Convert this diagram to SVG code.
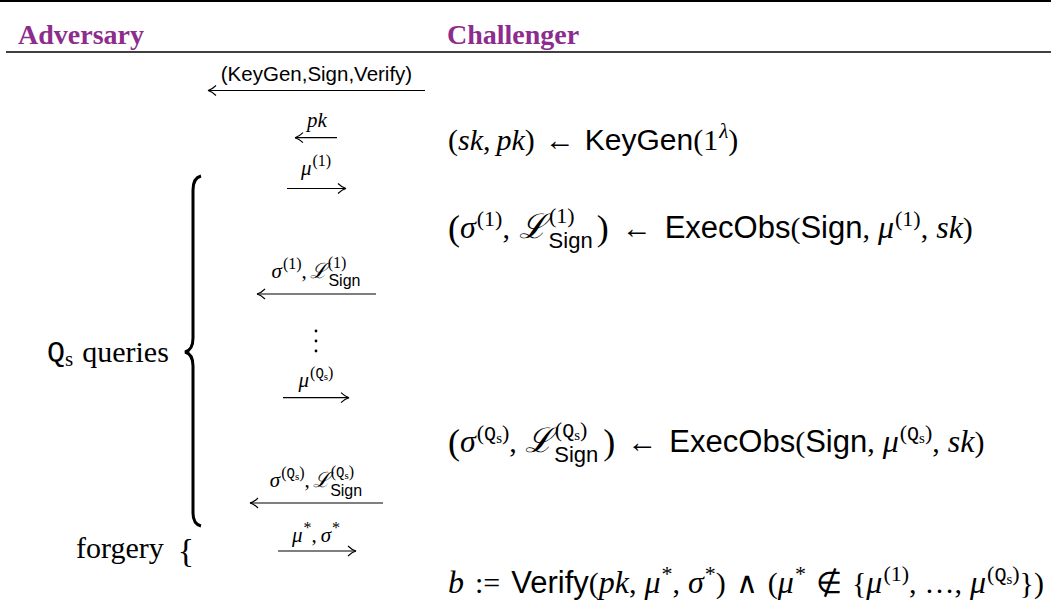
<svg xmlns="http://www.w3.org/2000/svg" width="1051" height="609" viewBox="0 0 1051 609">
<style>
text{font-family:"Liberation Serif",serif;fill:#000}
.h{font-weight:bold;font-size:28px;fill:#8c2d8d}
.m{font-size:30px}
.s{font-size:21px}
.i{font-style:italic}
.ib{font-style:italic;font-size:32px}
.sf{font-family:"Liberation Sans",sans-serif}
.sfb{font-family:"Liberation Sans",sans-serif;font-size:31px}
.tt{font-family:"Liberation Mono",monospace}
.scr{font-family:"DejaVu Serif",serif;font-style:italic}
.rule{stroke:#000;fill:none}
.arr{stroke:#000;stroke-width:1.2;fill:none;marker-end:url(#ah)}
</style>
<defs>
<marker id="ah" viewBox="-10 -6 12 12" refX="0" refY="0" markerWidth="12" markerHeight="12" markerUnits="userSpaceOnUse" orient="auto">
<path d="M-8 -5 C-5 -2 -2 -0.5 0 0 C-2 0.5 -5 2 -8 5" fill="none" stroke="#000" stroke-width="1.1"/>
</marker>
</defs>
<g id="table-rules">
<line class="rule" x1="0" y1="1" x2="1051" y2="1" stroke-width="2"/>
<line class="rule" x1="6" y1="52" x2="1051" y2="52" stroke-width="1.4"/>
</g>
<g id="header-adversary"><text class="h" x="18" y="44">Adversary</text></g>
<g id="header-challenger"><text class="h" x="447" y="44">Challenger</text></g>

<g id="connectors">
<line class="arr" x1="425" y1="90.5" x2="208" y2="90.5"/>
<line class="arr" x1="337" y1="137.7" x2="295" y2="137.7"/>
<line class="arr" x1="287" y1="188.5" x2="346" y2="188.5"/>
<line class="arr" x1="376" y1="294" x2="257" y2="294"/>
<line class="arr" x1="283" y1="397.7" x2="349" y2="397.7"/>
<line class="arr" x1="383" y1="503" x2="250" y2="503"/>
<line class="arr" x1="278" y1="551" x2="356" y2="551"/>
</g>

<g id="arrow-labels">
<text class="sf" font-size="20.5" x="316.5" y="81" text-anchor="middle">(KeyGen,Sign,Verify)</text>
<text class="s i" x="317" y="127" text-anchor="middle">pk</text>
<text class="s" x="316" y="175" text-anchor="middle"><tspan class="i">μ</tspan><tspan font-size="16" dy="-9" dx="1">(1)</tspan></text>
<text class="s" x="316" y="278" text-anchor="middle"><tspan class="i">σ</tspan><tspan font-size="16" dy="-9" dx="1">(1)</tspan><tspan dy="9">,</tspan><tspan class="scr" dx="3">ℒ</tspan><tspan font-size="16" dy="-10" dx="1">(1)</tspan><tspan class="sf" font-size="16" dx="-18" dy="18">Sign</tspan></text>
<g id="vdots"><circle cx="316" cy="331" r="1.4"/><circle cx="316" cy="341" r="1.4"/><circle cx="316" cy="351" r="1.4"/></g>
<text class="s" x="316" y="387" text-anchor="middle"><tspan class="i">μ</tspan><tspan font-size="16" dy="-9" dx="1">(</tspan><tspan class="tt" font-size="14">Q</tspan><tspan font-size="11" dy="2">s</tspan><tspan font-size="16" dy="-2">)</tspan></text>
<text class="s" x="316" y="487" text-anchor="middle"><tspan class="i">σ</tspan><tspan font-size="16" dy="-9" dx="1">(</tspan><tspan class="tt" font-size="14">Q</tspan><tspan font-size="11" dy="2">s</tspan><tspan font-size="16" dy="-2">)</tspan><tspan dy="9">,</tspan><tspan class="scr" dx="3">ℒ</tspan><tspan font-size="16" dy="-10" dx="1">(</tspan><tspan class="tt" font-size="14">Q</tspan><tspan font-size="11" dy="2">s</tspan><tspan font-size="16" dy="-2">)</tspan><tspan class="sf" font-size="16" dx="-24" dy="19">Sign</tspan></text>
<text class="s" x="316" y="542" text-anchor="middle"><tspan class="i">μ</tspan><tspan font-size="16" dy="-9" dx="1">*</tspan><tspan dy="9">,</tspan><tspan class="i" dx="4">σ</tspan><tspan font-size="16" dy="-9" dx="1">*</tspan></text>
</g>

<g id="queries-group">
<text class="m" x="47" y="362"><tspan class="tt">Q</tspan><tspan font-size="21" dy="4">s</tspan><tspan dy="-4" dx="9">queries</tspan></text>
<path d="M201 176 Q193 178 193 190 L193 338 Q193 350 185 352 Q193 354 193 366 L193 513 Q193 524 201 526" fill="none" stroke="#000" stroke-width="3"/>
</g>

<g id="forgery-group">
<text class="m" x="76" y="558">forgery<tspan font-size="34" dx="14" dy="4">{</tspan></text>
</g>

<g id="challenger-keygen">
<text class="m" x="448" y="150">(<tspan class="i">sk</tspan>,<tspan class="i" dx="6">pk</tspan>)<tspan dx="10">←</tspan><tspan class="sf" dx="10">KeyGen</tspan>(1<tspan class="i" font-size="21" dy="-12" dx="1">λ</tspan><tspan dy="12">)</tspan></text>
</g>

<g id="challenger-sign-1">
<text class="m" x="448" y="238"><tspan font-size="36" dy="2">(</tspan><tspan class="ib" dy="-2">σ</tspan><tspan font-size="22" dy="-12" dx="1">(1)</tspan><tspan dy="12">,</tspan><tspan class="scr" font-size="34" dx="9">ℒ</tspan><tspan font-size="22" dy="-15" dx="2">(1)</tspan><tspan class="sf" font-size="22" dx="-26" dy="25">Sign</tspan><tspan font-size="36" dy="-8" dx="4">)</tspan><tspan dx="13" dy="-2">←</tspan><tspan class="sfb" dx="13">ExecObs</tspan>(<tspan class="sfb">Sign</tspan>,<tspan class="ib" dx="8">μ</tspan><tspan font-size="22" dy="-12" dx="1">(1)</tspan><tspan dy="12">,</tspan><tspan class="ib" dx="8">sk</tspan>)</text>
</g>

<g id="challenger-sign-q">
<text class="m" x="448" y="452"><tspan font-size="36" dy="2">(</tspan><tspan class="ib" dy="-2">σ</tspan><tspan font-size="22" dy="-12" dx="1">(</tspan><tspan class="tt" font-size="20">Q</tspan><tspan font-size="15" dy="3">s</tspan><tspan font-size="22" dy="-3">)</tspan><tspan dy="12">,</tspan><tspan class="scr" font-size="34" dx="8">ℒ</tspan><tspan font-size="22" dy="-15" dx="2">(</tspan><tspan class="tt" font-size="20">Q</tspan><tspan font-size="15" dy="3">s</tspan><tspan font-size="22" dy="-3">)</tspan><tspan class="sf" font-size="22" dx="-33" dy="25">Sign</tspan><tspan font-size="36" dy="-8" dx="5">)</tspan><tspan dx="12" dy="-2">←</tspan><tspan class="sfb" dx="12">ExecObs</tspan>(<tspan class="sfb">Sign</tspan>,<tspan class="ib" dx="8">μ</tspan><tspan font-size="22" dy="-12" dx="1">(</tspan><tspan class="tt" font-size="20">Q</tspan><tspan font-size="15" dy="3">s</tspan><tspan font-size="22" dy="-3">)</tspan><tspan dy="12">,</tspan><tspan class="ib" dx="8">sk</tspan>)</text>
</g>

<g id="challenger-verify">
<text class="m" x="448" y="593"><tspan class="ib">b</tspan><tspan dx="11">:=</tspan><tspan class="sfb" dx="11">Verify</tspan>(<tspan class="ib">pk</tspan>,<tspan class="ib" dx="8">μ</tspan><tspan font-size="22" dy="-12" dx="1">*</tspan><tspan dy="12">,</tspan><tspan class="ib" dx="8">σ</tspan><tspan font-size="22" dy="-12" dx="1">*</tspan><tspan dy="12">)</tspan><tspan dx="10">∧</tspan><tspan dx="10">(</tspan><tspan class="ib">μ</tspan><tspan font-size="22" dy="-12" dx="1">*</tspan><tspan dx="10" dy="12">∉</tspan><tspan dx="10">{</tspan><tspan class="ib">μ</tspan><tspan font-size="22" dy="-12" dx="1">(1)</tspan><tspan dy="12">,</tspan><tspan dx="8">…</tspan>,<tspan class="ib" dx="8">μ</tspan><tspan font-size="22" dy="-12" dx="1">(</tspan><tspan class="tt" font-size="20">Q</tspan><tspan font-size="15" dy="3">s</tspan><tspan font-size="22" dy="-3">)</tspan><tspan dy="12">})</tspan></text>
</g>
</svg>
